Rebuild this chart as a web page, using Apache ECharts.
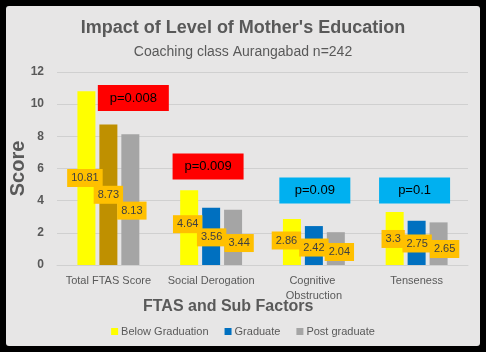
<!DOCTYPE html>
<html>
<head>
<meta charset="utf-8">
<script src="https://cdn.jsdelivr.net/npm/echarts@6/dist/echarts.min.js"></script>
<style>
html,body{margin:0;padding:0;background:#000;}
#main{position:absolute;left:6px;top:6px;width:474px;height:340px;background:#e7e6e6;border-radius:3px;}
</style>
</head>
<body>
<div id="main"></div>
<script>
var categories = ['Total FTAS Score', 'Social Derogation', 'Cognitive Obstruction', 'Tenseness'];
var below_graduation = [10.81, 4.64, 2.86, 3.3];
var graduate = [8.73, 3.56, 2.42, 2.75];
var post_graduate = [8.13, 3.44, 2.04, 2.65];
var p_values = ['p=0.008', 'p=0.009', 'p=0.09', 'p=0.1'];

var font = 'Liberation Sans';
var grey_text = '#595959';

// p-value boxes, placed in data coords over each group (offset from the grey bar)
var p_box_y = [10.38, 6.12, 4.63, 4.63];
var p_box_dx = [3, -25, -21, -24];
var p_box_color = ['#ff0000', '#ff0000', '#00b0f0', '#00b0f0'];

// hand-placed data labels in the original, nudged from bar centre (px)
var below_label_off = [[-1.5, 0], [-1.5, -3.5], [-5.5, -1.5], [-1.5, 0.5]];
var grad_label_off = [[0, 0], [0.5, 1], [0, 2], [0.5, 0.6]];
var post_label_off = [[1.5, 11], [6, 5.7], [3.5, 3.4], [6, 5.3]];

function value_label(){
    return {
        show: true,
        position: 'inside',
        backgroundColor: '#ffc000',
        padding: [4, 4, 3, 4],
        color: '#404040',
        fontFamily: font,
        fontSize: 11,
        formatter: '{c}'
    };
}

function with_offsets(values, offs){
    var out = [];
    for (var i = 0; i < values.length; i++) {
        out.push({value: values[i], label: {offset: offs[i]}});
    }
    return out;
}

var myChart = echarts.init(document.getElementById('main'));

var mark_data = [];
for (var i = 0; i < categories.length; i++) {
    mark_data.push({
        coord: [categories[i], p_box_y[i]],
        symbolOffset: [p_box_dx[i], 0],
        itemStyle: {color: p_box_color[i]},
        label: {formatter: p_values[i]}
    });
}

var grad_data = with_offsets(graduate, grad_label_off);
grad_data[0].itemStyle = {color: '#bf9000'};   // first group's graduate bar is dark gold

var option = {
    animation: false,
    title: {
        text: "Impact of Level of Mother's Education",
        subtext: 'Coaching class Aurangabad n=242',
        left: 'center',
        top: 8,
        itemGap: 8,
        textStyle: {fontFamily: font, fontSize: 18, fontWeight: 'bold', color: grey_text},
        subtextStyle: {fontFamily: font, fontSize: 14, color: grey_text}
    },
    graphic: [{
        type: 'text',
        left: 137,
        top: 293,
        style: {text: 'FTAS and Sub Factors', fontFamily: font, fontSize: 16, fontWeight: 'bold', fill: grey_text}
    }],
    legend: {
        data: ['Below Graduation', 'Graduate', 'Post graduate'],
        left: 'center',
        top: 315,
        itemWidth: 7,
        itemHeight: 7,
        itemGap: 16,
        icon: 'rect',
        textStyle: {fontFamily: font, fontSize: 11, color: grey_text, padding: [0, 0, 0, -2]}
    },
    grid: {left: 51, right: 12, top: 66, bottom: 81, containLabel: false, outerBoundsMode: 'none'},
    xAxis: {
        type: 'category',
        data: categories,
        axisLine: {lineStyle: {color: '#d0d0d0'}},
        axisTick: {show: false},
        axisLabel: {
            interval: 0,
            fontFamily: font,
            fontSize: 11,
            color: grey_text,
            width: 95,
            overflow: 'break',
            lineHeight: 15,
            margin: 8
        }
    },
    yAxis: {
        type: 'value',
        min: 0,
        max: 12,
        interval: 2,
        name: 'Score',
        nameLocation: 'middle',
        nameGap: 29,
        nameMoveOverlap: false,
        nameTextStyle: {fontFamily: font, fontSize: 20, fontWeight: 'bold', color: grey_text},
        axisLabel: {fontFamily: font, fontSize: 12, fontWeight: 'bold', color: grey_text, margin: 13},
        splitLine: {lineStyle: {color: '#d0d0d0'}}
    },
    series: [
        {
            name: 'Below Graduation',
            type: 'bar',
            barWidth: 18,
            barGap: '22%',
            itemStyle: {color: '#ffff00'},
            label: value_label(),
            data: with_offsets(below_graduation, below_label_off)
        },
        {
            name: 'Graduate',
            type: 'bar',
            barWidth: 18,
            barGap: '22%',
            itemStyle: {color: '#0070c0'},
            label: value_label(),
            data: grad_data
        },
        {
            name: 'Post graduate',
            type: 'bar',
            barWidth: 18,
            barGap: '22%',
            itemStyle: {color: '#a5a5a5'},
            label: value_label(),
            data: with_offsets(post_graduate, post_label_off),
            markPoint: {
                symbol: 'rect',
                symbolSize: [71, 26],
                label: {show: true, position: 'inside', color: '#000', fontFamily: font, fontSize: 13},
                data: mark_data
            }
        }
    ]
};

myChart.setOption(option);
</script>
</body>
</html>
